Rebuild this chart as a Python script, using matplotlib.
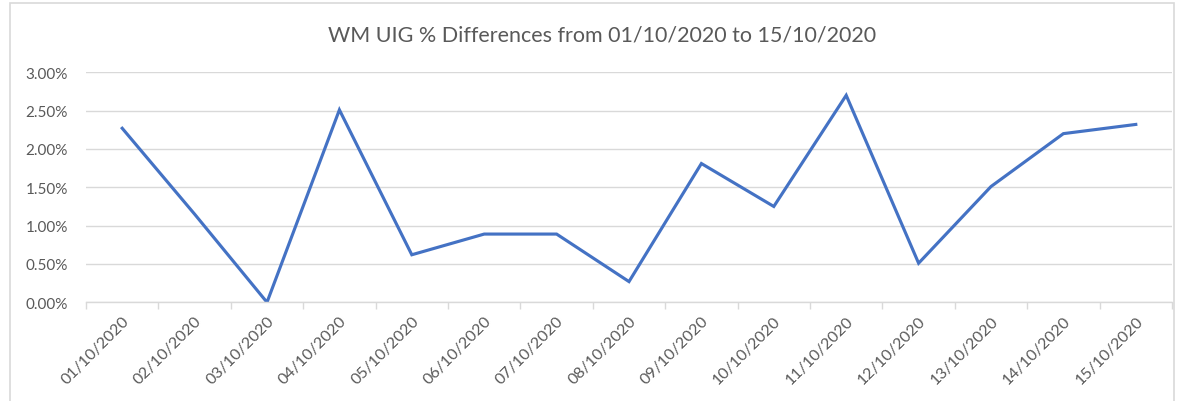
import matplotlib
matplotlib.use('Agg')
import matplotlib.pyplot as plt
from matplotlib.patches import Rectangle
from matplotlib.ticker import PercentFormatter

# data
dates = ['01/10/2020', '02/10/2020', '03/10/2020', '04/10/2020', '05/10/2020',
         '06/10/2020', '07/10/2020', '08/10/2020', '09/10/2020', '10/10/2020',
         '11/10/2020', '12/10/2020', '13/10/2020', '14/10/2020', '15/10/2020']
uig_diff = [0.0227, 0.0115, 0.0000, 0.0251, 0.0062, 0.0089, 0.0089, 0.0027,
            0.0181, 0.0125, 0.0270, 0.0051, 0.0151, 0.0220, 0.0232]

title = 'WM UIG % Differences from 01/10/2020 to 15/10/2020'

plt.rcParams['font.family'] = ['Lato', 'DejaVu Sans']
txt_col = '#595959'
grid_col = '#D9D9D9'

fig = plt.figure(figsize=(11.78, 4.02), dpi=100)
ax = fig.add_axes([86/1178, 1 - 303.3/402, (1172 - 86)/1178, (303.3 - 73.3)/402])

# chart border like excel
fig.patches.append(Rectangle((10/1178, -0.02), (1174 - 10)/1178, 1 - 4/402 + 0.02,
                             transform=fig.transFigure, fill=False,
                             edgecolor='#D9D9D9', linewidth=1.2))

x = list(range(len(dates)))
ax.plot(x, uig_diff, color='#4472C4', linewidth=2.25, solid_joinstyle='miter')

ax.set_xlim(-0.5, len(dates) - 0.5)
ax.set_ylim(0, 0.03)
ax.set_yticks([0, 0.005, 0.01, 0.015, 0.02, 0.025, 0.03])
ax.yaxis.set_major_formatter(PercentFormatter(xmax=1, decimals=2))
ax.grid(axis='y', color=grid_col, linewidth=1)
ax.set_axisbelow(True)

ax.set_xticks(x)
ax.set_xticklabels(dates, rotation=45, ha='right', rotation_mode='anchor')
ax.set_xticks([i - 0.5 for i in range(len(dates) + 1)], minor=True)
ax.tick_params(axis='x', which='major', length=0, pad=8, labelsize=11.5, labelcolor=txt_col)
ax.tick_params(axis='x', which='minor', length=5, color=grid_col, width=1)
ax.tick_params(axis='y', length=0, pad=13, labelsize=11, labelcolor=txt_col)

for s in ['top', 'right', 'left']:
    ax.spines[s].set_visible(False)
ax.spines['bottom'].set_color(grid_col)
ax.spines['bottom'].set_linewidth(1)

fig.text(0.5 + 13/1178, 1 - 35/402, title, ha='center', va='center', fontsize=15.5, color=txt_col)

fig.savefig('out.png', dpi=100)
